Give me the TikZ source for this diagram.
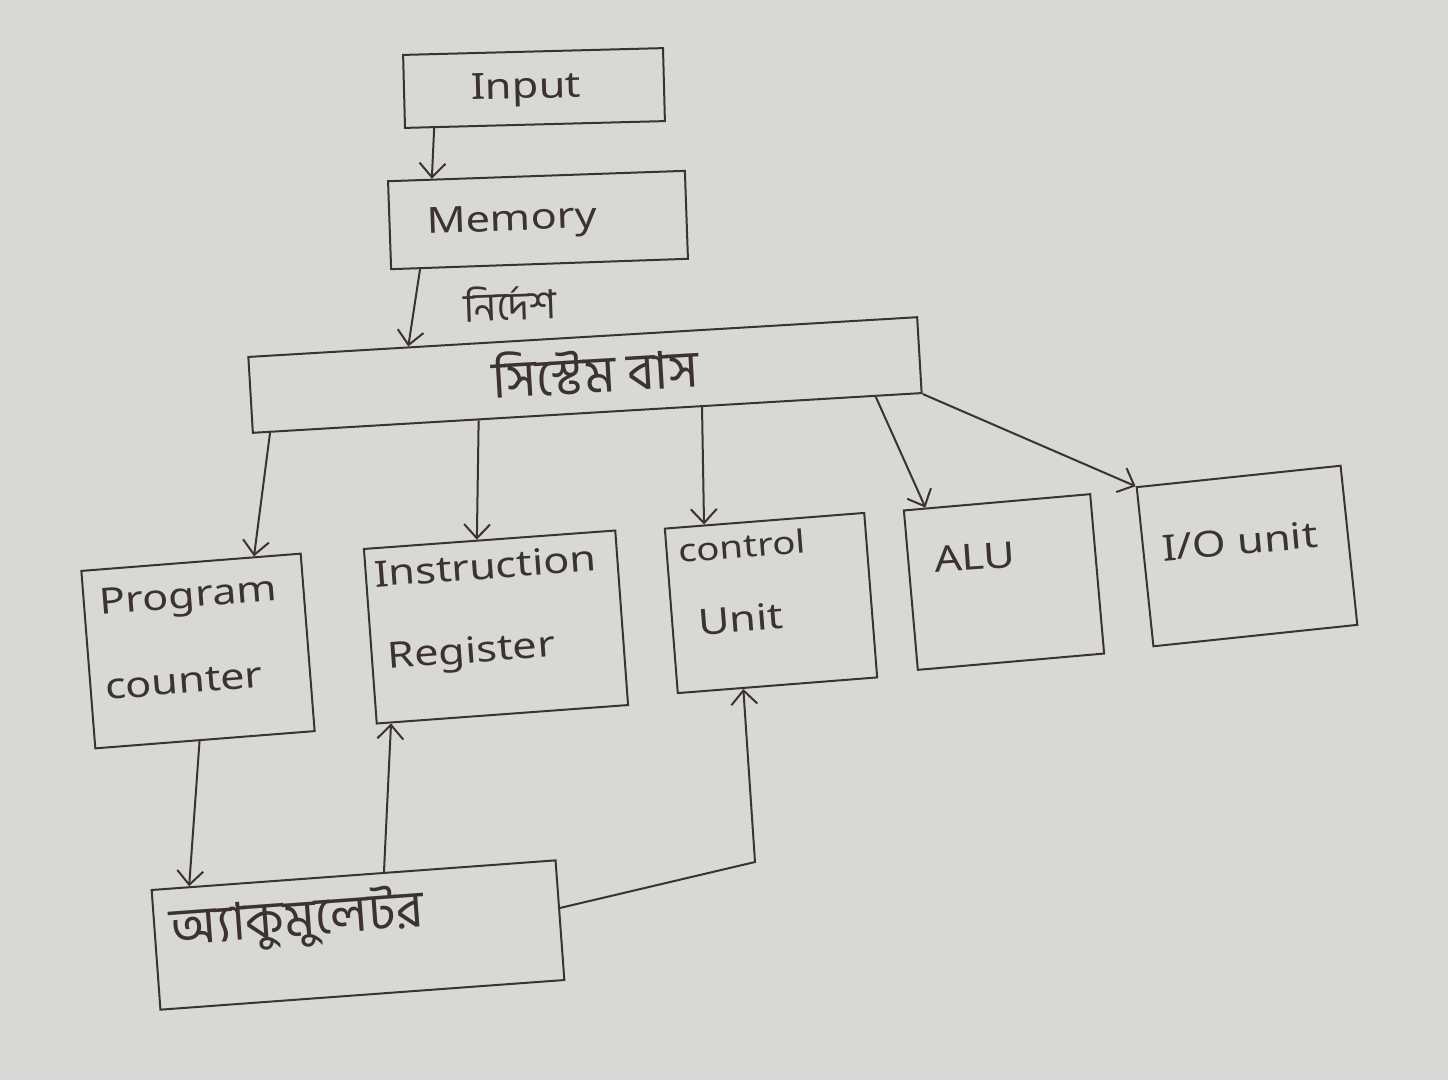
\documentclass[tikz,border=0pt]{standalone}
\usepackage{fontspec}
\setmainfont{Noto Sans}[FakeStretch=1.2]
\newfontfamily\bnfont[Script=Bengali]{Hind Siliguri}
\usetikzlibrary{arrows.meta,calc}
\definecolor{paper}{RGB}{216,216,212}
\definecolor{ink}{RGB}{60,50,50}
\begin{document}
\begin{tikzpicture}[x=1pt,y=1pt,
  box/.style={draw=ink,line width=2pt,inner sep=0pt},
  lbl/.style={text=ink,font=\fontsize{36}{42}\selectfont,inner sep=0pt,align=left},
  small/.style={text=ink,font=\fontsize{32}{38}\selectfont,inner sep=0pt},
  bn/.style={text=ink,inner sep=0pt},
  arr/.style={draw=ink,line width=2pt,-{Straight Barb[length=14pt,width=26pt,line width=2pt]}},
  wire/.style={draw=ink,line width=2pt}]
\fill[paper] (0,0) rectangle (1448,-1080);
\useasboundingbox (0,0) rectangle (1448,-1080);

% boxes
\node[box,minimum width=260pt,minimum height=73pt,rotate=1.5] (input) at (534,-88) {};
\node[box,minimum width=297pt,minimum height=88pt,rotate=2] (memory) at (538,-220) {};
\node[box,minimum width=670pt,minimum height=76pt,rotate=3.4] (bus) at (585,-375) {};
\node[box,minimum width=220pt,minimum height=178pt,rotate=4.5] (pc) at (198,-651) {};
\node[box,minimum width=252pt,minimum height=175pt,rotate=4.2] (ir) at (496,-627) {};
\node[box,minimum width=200pt,minimum height=165pt,rotate=4.5] (cu) at (771,-603) {};
\node[box,minimum width=187pt,minimum height=160pt,rotate=5] (alu) at (1004,-582) {};
\node[box,minimum width=205pt,minimum height=160pt,rotate=6] (io) at (1247,-556) {};
\node[box,minimum width=405pt,minimum height=120pt,rotate=4.2] (acc) at (358,-935) {};

% labels
\node[lbl,rotate=1.5] (tinput) at (526,-90) {Input};
\node[lbl,rotate=2] (tmemory) at (512,-222) {Memory};
\node[bn,rotate=2,font=\bnfont\fontsize{40}{46}\selectfont] (tinstr) at (510,-303) {নির্দেশ};
\node[bn,rotate=3.4,font=\bnfont\fontsize{52}{60}\selectfont] (tbus) at (595,-370) {সিস্টেম বাস};
\node[lbl,rotate=4.5,anchor=west] (tpc1) at (100,-606) {Program};
\node[lbl,rotate=4.5,anchor=west] (tpc2) at (105,-688) {counter};
\node[lbl,rotate=4.2,anchor=west] (tir1) at (374,-574) {Instruction};
\node[lbl,rotate=4.2,anchor=west] (tir2) at (388,-660) {Register};
\node[small,rotate=4.5,anchor=west] (tcu1) at (678,-551) {control};
\node[lbl,rotate=4.5,anchor=west] (tcu2) at (698,-622) {Unit};
\node[lbl,rotate=4,anchor=west] (talu) at (934,-560) {ALU};
\node[lbl,rotate=5,anchor=west] (tio) at (1162,-548) {I/O unit};
\node[bn,rotate=4.2,anchor=west,font=\bnfont\fontsize{52}{60}\selectfont] (tacc) at (170,-930) {অ্যাকুমুলেটর};

% connectors
\draw[arr] ($(input.south west)!0.115!(input.south east)$) -- ($(memory.north west)!0.15!(memory.north east)$);
\draw[arr] ($(memory.south west)!0.1!(memory.south east)$) -- ($(bus.north west)!0.24!(bus.north east)$);
\draw[arr] ($(bus.south west)!0.027!(bus.south east)$) -- ($(pc.north west)!0.785!(pc.north east)$);
\draw[arr] ($(bus.south west)!0.338!(bus.south east)$) -- ($(ir.north west)!0.45!(ir.north east)$);
\draw[arr] ($(bus.south west)!0.671!(bus.south east)$) -- ($(cu.north west)!0.2!(cu.north east)$);
\draw[arr] ($(bus.south west)!0.93!(bus.south east)$) -- ($(alu.north west)!0.12!(alu.north east)$);
\draw[arr] (bus.south east) -- (io.north west);
\draw[arr] ($(pc.south west)!0.475!(pc.south east)$) -- ($(acc.north west)!0.095!(acc.north east)$);
\draw[arr] ($(acc.north west)!0.575!(acc.north east)$) -- ($(ir.south west)!0.06!(ir.south east)$);
\coordinate (elb) at (755,-862);
\draw[arr] ($(acc.south east)!0.6!(acc.north east)$) -- (elb) -- ($(cu.south west)!0.33!(cu.south east)$);
\end{tikzpicture}
\end{document}
